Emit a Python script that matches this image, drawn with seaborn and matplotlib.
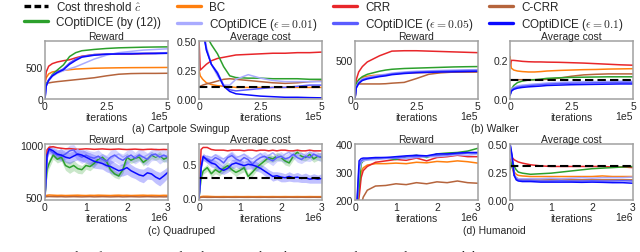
import matplotlib.pyplot as plt
import seaborn as sns
from matplotlib.lines import Line2D

# ---- Cartpole Swingup (x in iterations) ----
CP_X = [0, 5e3, 1.5e4, 3e4, 5e4, 7.5e4, 1e5, 1.25e5, 1.5e5, 2e5, 2.5e5, 3e5, 3.5e5, 4e5, 4.5e5, 5e5]
CP_REW_BC = [240, 330, 390, 420, 435, 445, 455, 465, 470, 478, 482, 485, 487, 488, 489, 490]
CP_REW_CRR = [250, 420, 510, 550, 575, 595, 610, 640, 665, 690, 695, 700, 700, 705, 710, 715]
CP_REW_CCRR = [230, 240, 250, 260, 270, 280, 290, 300, 310, 330, 360, 385, 395, 398, 398, 400]
CP_REW_GREEN = [200, 240, 290, 380, 450, 530, 660, 720, 750, 770, 785, 795, 800, 805, 808, 810]
CP_REW_E01 = [0, 200, 280, 350, 400, 440, 470, 500, 540, 620, 680, 720, 740, 760, 770, 780]
CP_REW_E05 = [0, 220, 300, 370, 420, 470, 560, 620, 660, 690, 700, 705, 710, 712, 715, 720]
CP_REW_E1 = [0, 200, 290, 360, 410, 455, 540, 600, 650, 680, 695, 700, 700, 705, 705, 710]

CP_COST_BC = [0.25, 0.2, 0.17, 0.14, 0.125, 0.115, 0.11, 0.105, 0.1, 0.1, 0.1, 0.1, 0.1, 0.1, 0.1, 0.1]
CP_COST_CRR = [0.5, 0.25, 0.27, 0.3, 0.33, 0.35, 0.36, 0.37, 0.38, 0.385, 0.39, 0.395, 0.395, 0.4, 0.4, 0.405]
CP_COST_CCRR = [0.1, 0.11, 0.12, 0.13, 0.14, 0.155, 0.17, 0.175, 0.17, 0.16, 0.15, 0.14, 0.135, 0.14, 0.15, 0.155]
CP_COST_GREEN = [0.9, 0.8, 0.7, 0.55, 0.47, 0.39, 0.28, 0.2, 0.185, 0.18, 0.18, 0.175, 0.175, 0.175, 0.17, 0.17]
CP_COST_E01 = [0.9, 0.8, 0.65, 0.45, 0.3, 0.2, 0.12, 0.12, 0.17, 0.21, 0.18, 0.16, 0.15, 0.15, 0.15, 0.15]
CP_COST_E05 = [0.9, 0.8, 0.62, 0.43, 0.3, 0.23, 0.12, 0.08, 0.07, 0.08, 0.09, 0.1, 0.1, 0.11, 0.12, 0.12]
CP_COST_E1 = [0.9, 0.8, 0.6, 0.42, 0.3, 0.22, 0.11, 0.065, 0.045, 0.035, 0.025, 0.02, 0.015, 0.015, 0.012, 0.01]

# ---- Walker ----
WK_X = CP_X
WK_REW_BC = [0, 180, 250, 280, 295, 305, 310, 315, 325, 335, 340, 345, 345, 348, 350, 350]
WK_REW_CRR = [0, 250, 350, 420, 480, 520, 560, 590, 620, 625, 625, 620, 615, 610, 605, 600]
WK_REW_CCRR = [0, 190, 195, 195, 195, 195, 195, 198, 205, 215, 265, 320, 340, 348, 350, 352]
WK_REW_GREEN = [0, 200, 250, 290, 320, 340, 360, 375, 385, 395, 400, 405, 410, 415, 418, 420]
WK_REW_E01 = [0, 160, 220, 260, 280, 295, 310, 320, 335, 350, 360, 365, 370, 375, 378, 380]
WK_REW_E05 = [0, 150, 210, 250, 270, 285, 300, 310, 325, 340, 350, 355, 360, 365, 368, 370]
WK_REW_E1 = [0, 140, 200, 240, 260, 275, 290, 300, 315, 330, 340, 345, 350, 352, 355, 358]

WK_COST_BC = [0.22, 0.16, 0.15, 0.145, 0.142, 0.14, 0.14, 0.142, 0.145, 0.148, 0.15, 0.152, 0.153, 0.155, 0.156, 0.157]
WK_COST_CRR = [0.17, 0.2, 0.2, 0.198, 0.195, 0.193, 0.192, 0.192, 0.191, 0.19, 0.188, 0.186, 0.183, 0.18, 0.177, 0.175]
WK_COST_CCRR = [0.1, 0.1, 0.1, 0.1, 0.1, 0.1, 0.1, 0.1, 0.102, 0.108, 0.118, 0.125, 0.128, 0.13, 0.13, 0.13]
WK_COST_GREEN = [0.02, 0.05, 0.07, 0.085, 0.093, 0.098, 0.1, 0.103, 0.107, 0.11, 0.112, 0.113, 0.114, 0.115, 0.115, 0.115]
WK_COST_E01 = [0.02, 0.05, 0.06, 0.068, 0.072, 0.075, 0.078, 0.08, 0.083, 0.086, 0.088, 0.09, 0.09, 0.091, 0.092, 0.092]
WK_COST_E05 = [0.02, 0.045, 0.055, 0.062, 0.066, 0.069, 0.072, 0.074, 0.077, 0.08, 0.082, 0.083, 0.084, 0.085, 0.086, 0.086]
WK_COST_E1 = [0.02, 0.04, 0.05, 0.056, 0.06, 0.063, 0.065, 0.067, 0.07, 0.072, 0.074, 0.075, 0.076, 0.077, 0.078, 0.078]

# ---- Quadruped ----
QD_X = [0, 5e4, 1e5, 2e5, 3e5, 4e5, 5e5, 6e5, 7e5, 8e5, 9e5, 1e6, 1.1e6, 1.2e6, 1.3e6, 1.4e6,
        1.5e6, 1.6e6, 1.7e6, 1.8e6, 1.9e6, 2e6, 2.1e6, 2.2e6, 2.3e6, 2.4e6, 2.5e6, 2.6e6,
        2.7e6, 2.8e6, 2.9e6, 3e6]
QD_REW_BC = [510, 515, 518, 516, 514, 515, 513, 514, 515, 516, 514, 513, 515, 514, 516, 515,
             514, 513, 515, 516, 514, 515, 513, 514, 515, 516, 514, 515, 514, 513, 515, 514]
QD_REW_CRR = [500, 950, 975, 980, 970, 965, 960, 962, 958, 955, 957, 960, 958, 955, 957, 959,
              956, 954, 956, 958, 955, 953, 955, 957, 954, 952, 955, 956, 953, 952, 954, 952]
QD_REW_CCRR = [500, 502, 503, 502, 501, 502, 500, 501, 502, 501, 500, 501, 502, 500, 501, 502,
               501, 500, 501, 502, 500, 501, 502, 501, 500, 501, 502, 501, 500, 501, 500, 501]
QD_REW_GREEN = [500, 760, 820, 900, 860, 880, 800, 780, 800, 770, 760, 800, 790, 820, 860, 880,
                840, 760, 720, 700, 760, 880, 850, 870, 880, 830, 860, 900, 880, 900, 860, 880]
QD_REW_E01 = [500, 870, 940, 950, 930, 950, 920, 900, 930, 950, 920, 900, 910, 880, 870, 900,
              880, 860, 890, 910, 880, 900, 870, 890, 910, 880, 900, 920, 890, 900, 880, 900]
QD_REW_E05 = [500, 880, 950, 920, 900, 890, 910, 940, 950, 900, 880, 900, 880, 870, 890, 860,
              840, 880, 900, 870, 850, 880, 900, 870, 900, 880, 860, 900, 910, 880, 900, 880]
QD_REW_E1 = [500, 900, 960, 940, 910, 900, 880, 870, 890, 910, 900, 880, 860, 840, 830, 820,
             800, 790, 770, 750, 760, 780, 750, 730, 710, 700, 730, 720, 690, 670, 700, 735]
QD_REW_SD_GREEN = [0, 40, 45, 40, 35, 40, 45, 55, 50, 45, 40, 35, 40, 35, 30, 35,
                   40, 45, 35, 30, 35, 40, 30, 35, 30, 35, 30, 35, 30, 35, 30, 30]
QD_REW_SD_BLUE = [0, 30, 40, 40, 45, 50, 50, 55, 50, 55, 60, 55, 60, 65, 60, 55,
                  60, 65, 60, 55, 60, 65, 60, 55, 60, 65, 60, 55, 60, 65, 60, 55]

QD_COST_BC = [0.0, 0.02, 0.025, 0.025, 0.022, 0.02, 0.02, 0.021, 0.02, 0.02, 0.021, 0.02, 0.02, 0.021, 0.02, 0.02,
              0.021, 0.02, 0.02, 0.021, 0.02, 0.02, 0.021, 0.02, 0.02, 0.021, 0.02, 0.02, 0.021, 0.02, 0.02, 0.02]
QD_COST_CRR = [0.0, 0.72, 0.75, 0.75, 0.72, 0.71, 0.71, 0.71, 0.70, 0.71, 0.71, 0.71, 0.70, 0.71, 0.71, 0.70,
               0.71, 0.71, 0.70, 0.71, 0.70, 0.71, 0.71, 0.70, 0.70, 0.71, 0.70, 0.70, 0.71, 0.70, 0.70, 0.70]
QD_COST_CCRR = [0.0, 0.01, 0.012, 0.01, 0.01, 0.011, 0.01, 0.01, 0.011, 0.01, 0.01, 0.011, 0.01, 0.01, 0.011, 0.01,
                0.01, 0.011, 0.01, 0.01, 0.011, 0.01, 0.01, 0.011, 0.01, 0.01, 0.011, 0.01, 0.01, 0.011, 0.01, 0.01]
QD_COST_GREEN = [0.0, 0.3, 0.4, 0.45, 0.36, 0.42, 0.38, 0.44, 0.48, 0.42, 0.38, 0.41, 0.45, 0.32, 0.38, 0.45,
                 0.5, 0.55, 0.6, 0.58, 0.62, 0.6, 0.55, 0.52, 0.62, 0.68, 0.62, 0.6, 0.65, 0.58, 0.62, 0.6]
QD_COST_E01 = [0.0, 0.45, 0.6, 0.62, 0.6, 0.64, 0.6, 0.58, 0.62, 0.66, 0.6, 0.62, 0.65, 0.6, 0.58, 0.62,
               0.66, 0.6, 0.63, 0.67, 0.62, 0.6, 0.65, 0.68, 0.62, 0.64, 0.66, 0.62, 0.68, 0.65, 0.63, 0.66]
QD_COST_E05 = [0.0, 0.45, 0.6, 0.58, 0.55, 0.6, 0.57, 0.52, 0.6, 0.63, 0.58, 0.55, 0.6, 0.57, 0.5, 0.56,
               0.6, 0.62, 0.58, 0.55, 0.6, 0.62, 0.58, 0.6, 0.65, 0.6, 0.57, 0.62, 0.6, 0.65, 0.62, 0.6]
QD_COST_E1 = [0.0, 0.45, 0.62, 0.56, 0.52, 0.5, 0.44, 0.41, 0.44, 0.5, 0.52, 0.5, 0.48, 0.5, 0.49, 0.47,
              0.44, 0.4, 0.36, 0.32, 0.33, 0.31, 0.3, 0.32, 0.3, 0.31, 0.29, 0.3, 0.28, 0.29, 0.28, 0.29]
QD_COST_SD_GREEN = [0, 0.04, 0.05, 0.05, 0.05, 0.06, 0.05, 0.06, 0.06, 0.05, 0.06, 0.05, 0.06, 0.05, 0.06, 0.05,
                    0.06, 0.05, 0.06, 0.05, 0.06, 0.05, 0.06, 0.05, 0.06, 0.05, 0.06, 0.05, 0.06, 0.05, 0.06, 0.05]
QD_COST_SD_BLUE = [0, 0.04, 0.05, 0.05, 0.06, 0.06, 0.07, 0.06, 0.06, 0.07, 0.06, 0.07, 0.06, 0.07, 0.06, 0.07,
                   0.06, 0.07, 0.06, 0.07, 0.06, 0.07, 0.06, 0.07, 0.06, 0.07, 0.06, 0.07, 0.06, 0.07, 0.06, 0.07]

# ---- Humanoid ----
HM_X = [0, 5e4, 1e5, 1.5e5, 2e5, 3e5, 5e5, 7.5e5, 1e6, 1.25e6, 1.5e6, 1.75e6, 2e6, 2.25e6, 2.5e6, 2.75e6, 3e6]
HM_REW_BC = [150, 180, 230, 300, 315, 325, 330, 330, 332, 330, 335, 333, 338, 336, 340, 337, 332]
HM_REW_CRR = [150, 170, 210, 280, 305, 320, 335, 340, 345, 342, 350, 340, 352, 355, 360, 355, 355]
HM_REW_CCRR = [150, 150, 150, 180, 210, 235, 250, 252, 258, 255, 262, 258, 265, 262, 268, 262, 260]
HM_REW_GREEN = [150, 180, 250, 330, 340, 345, 348, 350, 345, 355, 360, 352, 365, 368, 370, 375, 385]
HM_REW_E01 = [150, 185, 300, 335, 340, 343, 345, 348, 350, 348, 352, 355, 355, 358, 362, 360, 365]
HM_REW_E05 = [150, 190, 320, 340, 345, 347, 350, 352, 350, 355, 355, 358, 360, 362, 365, 368, 368]
HM_REW_E1 = [150, 200, 340, 348, 350, 350, 352, 352, 355, 358, 360, 358, 365, 365, 368, 370, 370]

HM_COST_BC = [0.35, 0.3, 0.25, 0.23, 0.22, 0.215, 0.21, 0.21, 0.21, 0.21, 0.21, 0.21, 0.21, 0.215, 0.21, 0.21, 0.21]
HM_COST_CRR = [0.35, 0.38, 0.36, 0.35, 0.34, 0.33, 0.315, 0.305, 0.3, 0.3, 0.3, 0.3, 0.3, 0.3, 0.295, 0.295, 0.29]
HM_COST_CCRR = [0.35, 0.3, 0.22, 0.2, 0.19, 0.185, 0.18, 0.18, 0.18, 0.18, 0.18, 0.18, 0.18, 0.18, 0.18, 0.18, 0.18]
HM_COST_GREEN = [0.27, 0.35, 0.3, 0.27, 0.25, 0.24, 0.23, 0.235, 0.24, 0.25, 0.26, 0.27, 0.28, 0.285, 0.29, 0.295, 0.3]
HM_COST_E01 = [0.5, 0.36, 0.24, 0.2, 0.19, 0.19, 0.19, 0.19, 0.195, 0.19, 0.195, 0.2, 0.195, 0.2, 0.2, 0.2, 0.205]
HM_COST_E05 = [0.5, 0.38, 0.22, 0.19, 0.18, 0.175, 0.175, 0.17, 0.17, 0.172, 0.17, 0.17, 0.172, 0.17, 0.17, 0.172, 0.17]
HM_COST_E1 = [0.5, 0.4, 0.22, 0.18, 0.17, 0.165, 0.165, 0.16, 0.16, 0.16, 0.16, 0.158, 0.16, 0.158, 0.155, 0.155, 0.15]

# cost thresholds per task
THRESHOLDS = {"cartpole": 0.1, "walker": 0.1, "quadruped": 0.3, "humanoid": 0.3}

LABELS = {
    "thr": r"Cost threshold $\hat{c}$",
    "bc": "BC",
    "crr": "CRR",
    "ccrr": "C-CRR",
    "green": "COptiDICE (by (12))",
    "e01": r"COptiDICE ($\epsilon=0.01$)",
    "e05": r"COptiDICE ($\epsilon=0.05$)",
    "e1": r"COptiDICE ($\epsilon=0.1$)",
}
COLORS = {
    "thr": "black",
    "bc": "#ff7f0e",
    "crr": "#e8262a",
    "ccrr": "#b5643c",
    "green": "#2ca02c",
    "e01": "#a9abff",
    "e05": "#5a5cff",
    "e1": "#0a0aff",
}
LW = 1.1
FS = 7.5


def draw_panel(fig, rect, x, curves, thr, ylim, yticks, yticklabels,
               xticks, xticklabels, offset, title, bands=()):
    ax = fig.add_axes(rect)
    for key, y, sd in bands:
        lo = [a - b for a, b in zip(y, sd)]
        hi = [a + b for a, b in zip(y, sd)]
        ax.fill_between(x, lo, hi, color=COLORS[key], alpha=0.25, lw=0)
    for key, y in curves:
        sns.lineplot(x=x, y=y, color=COLORS[key], lw=LW, ax=ax, legend=False)
    if thr is not None:
        ax.axhline(thr, color="black", lw=1.5, ls=(0, (4, 2)))
    ax.set_xlim(0, x[-1])
    ax.set_ylim(*ylim)
    ax.set_yticks(yticks)
    ax.set_yticklabels(yticklabels)
    ax.set_xticks(xticks)
    ax.set_xticklabels(xticklabels)
    ax.tick_params(length=0, pad=1.5, labelsize=FS)
    ax.set_xlabel("iterations", fontsize=FS, labelpad=0.5)
    ax.set_ylabel("")
    ax.annotate(offset, xy=(1, 0), xycoords="axes fraction", xytext=(0, -14.5),
                textcoords="offset points", ha="right", va="baseline", fontsize=FS)
    ax.set_title(title, fontsize=FS, pad=1.5)
    for s in ax.spines.values():
        s.set_color("#a0a0a0")
        s.set_linewidth(1.1)
    return ax


def main():
    sns.set_style("white")
    plt.rcParams["font.family"] = ["Liberation Sans", "DejaVu Sans"]
    plt.rcParams["mathtext.fontset"] = "cm"

    fig = plt.figure(figsize=(6.4, 2.53), dpi=100)

    cols = [0.0703, 0.311, 0.5547, 0.797]
    w = 0.192
    top_y, top_h = 0.6047, 0.229
    bot_y, bot_h = 0.2055, 0.221

    x5 = [0, 2.5e5, 5e5]
    x5l = ["0", "2.5", "5"]
    x6 = [0, 1e6, 2e6, 3e6]
    x6l = ["0", "1", "2", "3"]

    # Cartpole
    draw_panel(fig, [cols[0], top_y, w, top_h], CP_X,
               [("bc", CP_REW_BC), ("crr", CP_REW_CRR), ("ccrr", CP_REW_CCRR),
                ("green", CP_REW_GREEN), ("e01", CP_REW_E01), ("e05", CP_REW_E05), ("e1", CP_REW_E1)],
               None, (0, 900), [0, 500], ["0", "500"], x5, x5l, "1e5", "Reward")
    draw_panel(fig, [cols[1], top_y, w, top_h], CP_X,
               [("bc", CP_COST_BC), ("crr", CP_COST_CRR), ("ccrr", CP_COST_CCRR),
                ("green", CP_COST_GREEN), ("e01", CP_COST_E01), ("e05", CP_COST_E05), ("e1", CP_COST_E1)],
               THRESHOLDS["cartpole"], (0, 0.5), [0, 0.25, 0.5], ["0.00", "0.25", "0.50"],
               x5, x5l, "1e5", "Average cost")
    # Walker
    draw_panel(fig, [cols[2], top_y, w, top_h], WK_X,
               [("bc", WK_REW_BC), ("crr", WK_REW_CRR), ("ccrr", WK_REW_CCRR),
                ("green", WK_REW_GREEN), ("e01", WK_REW_E01), ("e05", WK_REW_E05), ("e1", WK_REW_E1)],
               None, (0, 750), [0, 500], ["0", "500"], x5, x5l, "1e5", "Reward")
    draw_panel(fig, [cols[3], top_y, w, top_h], WK_X,
               [("bc", WK_COST_BC), ("crr", WK_COST_CRR), ("ccrr", WK_COST_CCRR),
                ("green", WK_COST_GREEN), ("e01", WK_COST_E01), ("e05", WK_COST_E05), ("e1", WK_COST_E1)],
               THRESHOLDS["walker"], (0, 0.3), [0, 0.2], ["0.0", "0.2"],
               x5, x5l, "1e5", "Average cost")
    # Quadruped
    draw_panel(fig, [cols[0], bot_y, w, bot_h], QD_X,
               [("bc", QD_REW_BC), ("crr", QD_REW_CRR), ("ccrr", QD_REW_CCRR),
                ("green", QD_REW_GREEN), ("e01", QD_REW_E01), ("e05", QD_REW_E05), ("e1", QD_REW_E1)],
               None, (470, 1005), [500, 1000], ["500", "1000"], x6, x6l, "1e6", "Reward",
               bands=[("green", QD_REW_GREEN, QD_REW_SD_GREEN), ("e05", QD_REW_E05, QD_REW_SD_BLUE),
                      ("e1", QD_REW_E1, QD_REW_SD_BLUE)])
    draw_panel(fig, [cols[1], bot_y, w, bot_h], QD_X,
               [("bc", QD_COST_BC), ("crr", QD_COST_CRR), ("ccrr", QD_COST_CCRR),
                ("green", QD_COST_GREEN), ("e01", QD_COST_E01), ("e05", QD_COST_E05), ("e1", QD_COST_E1)],
               THRESHOLDS["quadruped"], (-0.03, 0.8), [0, 0.5], ["0.0", "0.5"],
               x6, x6l, "1e6", "Average cost",
               bands=[("green", QD_COST_GREEN, QD_COST_SD_GREEN), ("e05", QD_COST_E05, QD_COST_SD_BLUE),
                      ("e1", QD_COST_E1, QD_COST_SD_BLUE)])
    # Humanoid
    draw_panel(fig, [cols[2], bot_y, w, bot_h], HM_X,
               [("bc", HM_REW_BC), ("crr", HM_REW_CRR), ("ccrr", HM_REW_CCRR),
                ("green", HM_REW_GREEN), ("e01", HM_REW_E01), ("e05", HM_REW_E05), ("e1", HM_REW_E1)],
               None, (200, 400), [200, 300, 400], ["200", "300", "400"], x6, x6l, "1e6", "Reward")
    draw_panel(fig, [cols[3], bot_y, w, bot_h], HM_X,
               [("bc", HM_COST_BC), ("crr", HM_COST_CRR), ("ccrr", HM_COST_CCRR),
                ("green", HM_COST_GREEN), ("e01", HM_COST_E01), ("e05", HM_COST_E05), ("e1", HM_COST_E1)],
               THRESHOLDS["humanoid"], (0, 0.5), [0, 0.25, 0.5], ["0.00", "0.25", "0.50"],
               x6, x6l, "1e6", "Average cost")

    # Sub-captions
    fig.text(0.283, 0.492, "(a) Cartpole Swingup", ha="center", va="center", fontsize=FS)
    fig.text(0.773, 0.492, "(b) Walker", ha="center", va="center", fontsize=FS)
    fig.text(0.283, 0.088, "(c) Quadruped", ha="center", va="center", fontsize=FS)
    fig.text(0.773, 0.088, "(d) Humanoid", ha="center", va="center", fontsize=FS)

    # Legend (column-major order for 4 columns x 2 rows)
    order = ["thr", "green", "bc", "e01", "crr", "e05", "ccrr", "e1"]
    handles = []
    for k in order:
        if k == "thr":
            handles.append(Line2D([], [], color="black", lw=2.4, ls=(0, (2, 1))))
        else:
            handles.append(Line2D([], [], color=COLORS[k], lw=2.4))
    fig.legend(handles, [LABELS[k] for k in order], ncol=4, loc="upper left",
               bbox_to_anchor=(0.0375, 0.995), frameon=False, fontsize=8.4,
               handlelength=2.05, handletextpad=0.7, columnspacing=1.35,
               labelspacing=0.2, borderpad=0, borderaxespad=0)

    # clipped caption at the bottom edge
    fig.text(-0.005, -0.026, "Figure 2: Results of RWRL control tasks. For each task, we report the "
             "reward return and the average cost", ha="left", va="baseline",
             fontsize=9.5, family="Liberation Serif")

    fig.savefig("out.png", dpi=100)


if __name__ == "__main__":
    main()
